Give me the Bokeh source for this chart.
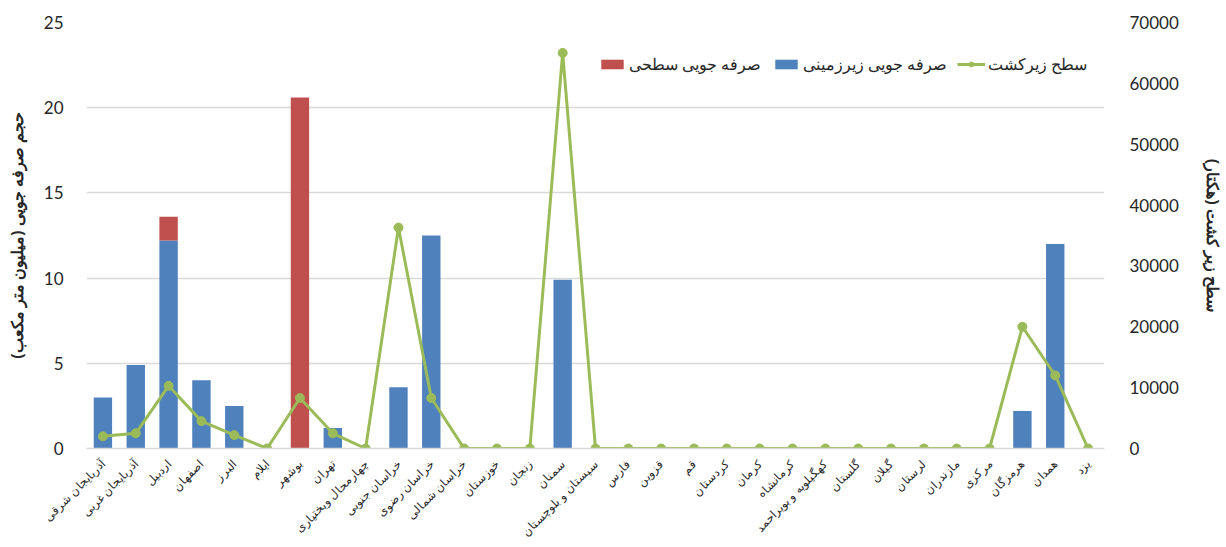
import math
from bokeh.plotting import figure
from bokeh.models import (FactorRange, Range1d, LinearAxis, FixedTicker,
                          Legend, LegendItem, ColumnDataSource)
from bokeh.embed import file_html
from bokeh.resources import INLINE

provinces = [
    "آذربایجان شرقی", "آذربایجان غربی", "اردبیل", "اصفهان", "البرز", "ایلام",
    "بوشهر", "تهران", "چهارمحال وبختیاری", "خراسان جنوبی", "خراسان رضوی",
    "خراسان شمالی", "خوزستان", "زنجان", "سمنان", "سیستان و بلوچستان", "فارس",
    "قزوین", "قم", "کردستان", "کرمان", "کرمانشاه", "کهگیلویه و بویراحمد",
    "گلستان", "گیلان", "لرستان", "مازندران", "مرکزی", "هرمزگان", "همدان", "یزد",
]
# groundwater savings (million m3)
groundwater = [3.0, 4.9, 12.2, 4.0, 2.5, 0, 0, 1.2, 0, 3.6, 12.5, 0, 0, 0, 9.9,
               0, 0, 0, 0, 0, 0, 0, 0, 0, 0, 0, 0, 0, 2.2, 12.0, 0]
# surface water savings (million m3)
surface = [0, 0, 1.4, 0, 0, 0, 20.6, 0, 0, 0, 0, 0, 0, 0, 0,
           0, 0, 0, 0, 0, 0, 0, 0, 0, 0, 0, 0, 0, 0, 0, 0]
# cultivated area (hectares)
area = [2000, 2500, 10300, 4500, 2200, 0, 8300, 2500, 0, 36300, 8300, 0, 0, 0, 65000,
        0, 0, 0, 0, 0, 0, 0, 0, 0, 0, 0, 0, 0, 20000, 12000, 0]

left_ticks = [0, 5, 10, 15, 20, 25]
right_ticks = [0, 10000, 20000, 30000, 40000, 50000, 60000, 70000]

BLUE = "#4F81BD"
RED = "#C0504D"
GREEN = "#9BBB59"
NUM_FONT = "Lato"
FA_FONT = "Noto Sans"
TEXT_COLOR = "#262626"

src = ColumnDataSource(dict(province=provinces, ground=groundwater,
                            surface=surface, area=area))

p = figure(x_range=FactorRange(*provinces), y_range=Range1d(0, 25),
           width=1226, height=547, output_backend="svg", toolbar_location=None,
           min_border_left=86, min_border_right=120, min_border_top=22,
           min_border_bottom=98, outline_line_color=None)
p.extra_y_ranges = {"area": Range1d(0, 70000)}

bars = p.vbar_stack(["ground", "surface"], x="province", width=0.56,
                    color=[BLUE, RED], line_color=None, source=src)
line = p.line("province", "area", y_range_name="area", line_color=GREEN,
              line_width=3, source=src)
dots = p.scatter("province", "area", y_range_name="area", size=9,
                 fill_color=GREEN, line_color=GREEN, source=src)

# left axis
ya = p.yaxis[0]
ya.ticker = FixedTicker(ticks=left_ticks)
ya.axis_label = "حجم صرفه جویی (میلیون متر مکعب)"
ya.axis_label_text_font = FA_FONT
ya.axis_label_text_font_style = "bold"
ya.axis_label_text_font_size = "16px"
ya.axis_label_text_color = TEXT_COLOR
ya.axis_label_standoff = 13
ya.major_label_text_font = NUM_FONT
ya.major_label_text_font_size = "17px"
ya.major_label_text_color = TEXT_COLOR
ya.major_label_standoff = 17
ya.axis_line_color = None
ya.major_tick_line_color = None
ya.minor_tick_line_color = None

# right axis
ra = LinearAxis(y_range_name="area", ticker=FixedTicker(ticks=right_ticks))
ra.axis_label = "سطح زیر کشت (هکتار)"
ra.axis_label_text_font = FA_FONT
ra.axis_label_text_font_style = "bold"
ra.axis_label_text_font_size = "16px"
ra.axis_label_text_color = TEXT_COLOR
ra.axis_label_standoff = 20
ra.major_label_text_font = NUM_FONT
ra.major_label_text_font_size = "17px"
ra.major_label_text_color = TEXT_COLOR
ra.major_label_standoff = 19
ra.axis_line_color = None
ra.major_tick_line_color = None
ra.minor_tick_line_color = None
p.add_layout(ra, "right")

# bottom axis
xa = p.xaxis[0]
xa.major_label_orientation = math.pi / 4
xa.major_label_text_font = FA_FONT
xa.major_label_text_font_size = "11.5px"
xa.major_label_text_color = TEXT_COLOR
xa.major_label_standoff = 7
xa.axis_line_color = "#d9d9d9"
xa.axis_line_width = 1.5
xa.major_tick_line_color = None
xa.minor_tick_line_color = None

p.xgrid.grid_line_color = None
p.ygrid.grid_line_color = "#d9d9d9"
p.ygrid.grid_line_width = 1.5
p.ygrid.ticker = FixedTicker(ticks=left_ticks)

# one legend box per series, laid out in a row across the top
legend_style = dict(orientation="horizontal", padding=0, margin=0,
                    glyph_width=28, glyph_height=12, label_standoff=3,
                    border_line_color=None, background_fill_alpha=0,
                    label_text_font=FA_FONT, label_text_font_size="16px",
                    label_text_color=TEXT_COLOR)
for label, renderers, x0 in [
    ("صرفه جویی سطحی", [bars[1]], 512),
    ("صرفه جویی زیرزمینی", [bars[0]], 686),
    ("سطح زیرکشت", [line, dots], 871),
]:
    p.add_layout(Legend(items=[LegendItem(label=label, renderers=renderers)],
                        location=(x0, 373), **legend_style), "center")

p.background_fill_color = "white"
p.border_fill_color = "white"

open("out.html", "w").write(file_html(p, INLINE))
